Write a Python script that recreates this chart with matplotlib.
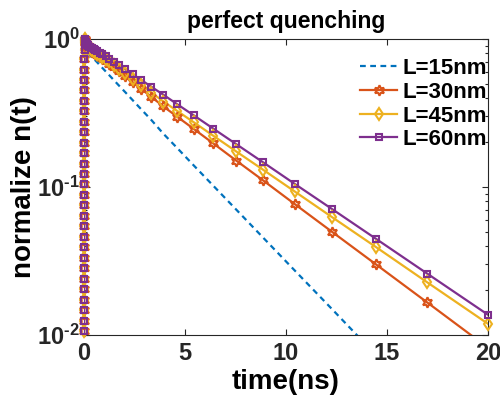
import numpy as np
import matplotlib
matplotlib.use("Agg")
import matplotlib.pyplot as plt
from matplotlib.lines import Line2D

plt.rcParams["font.family"] = ["Liberation Sans", "DejaVu Sans"]
plt.rcParams["font.weight"] = "bold"
plt.rcParams["mathtext.fontset"] = "custom"
plt.rcParams["mathtext.rm"] = "Liberation Sans:bold"
plt.rcParams["mathtext.bf"] = "Liberation Sans:bold"
plt.rcParams["mathtext.default"] = "rm"

# early build-up (shared by all film thicknesses), time in ns
t_rise = [0.00027, 0.00032, 0.00038, 0.00044, 0.00052, 0.00061, 0.00072, 0.00085,
          0.0010, 0.0012, 0.0014, 0.0016, 0.0019, 0.0022, 0.0026, 0.0031, 0.0036,
          0.0042, 0.0050, 0.0059, 0.0069, 0.0081, 0.0096, 0.0113, 0.0132, 0.0156,
          0.0183, 0.0216, 0.0254, 0.030]
n_rise = [0.0090, 0.0106, 0.0125, 0.0147, 0.0173, 0.0204, 0.024, 0.0282, 0.0332,
          0.0391, 0.046, 0.0541, 0.0637, 0.075, 0.0882, 0.104, 0.122, 0.144, 0.169,
          0.199, 0.234, 0.276, 0.325, 0.382, 0.45, 0.53, 0.62, 0.73, 0.84, 0.94]

# decay after the peak, time in ns
t_fall = [0.035, 0.041, 0.048, 0.057, 0.067, 0.079, 0.093, 0.109, 0.129, 0.151,
          0.178, 0.210, 0.247, 0.290, 0.342, 0.402, 0.473, 0.557, 0.655, 0.771,
          0.908, 1.068, 1.257, 1.48, 1.74, 2.05, 2.41, 2.84, 3.34, 3.93,
          4.62, 5.43, 6.40, 7.53, 8.86, 10.43, 12.27, 14.44, 16.99, 20.0]

n_L15 = [1.000, 0.973, 0.951, 0.929, 0.908, 0.887, 0.869, 0.851, 0.836, 0.822,
         0.809, 0.796, 0.785, 0.774, 0.764, 0.752, 0.738, 0.718, 0.695, 0.668,
         0.638, 0.605, 0.568, 0.527, 0.483, 0.436, 0.386, 0.334, 0.283, 0.229,
         0.183, 0.140, 0.102, 0.0705, 0.0456, 0.0273, 0.0150, 0.00736, 0.0032, 0.0012]
n_L30 = [1.000, 0.986, 0.975, 0.964, 0.953, 0.942, 0.929, 0.918, 0.906, 0.893,
         0.883, 0.871, 0.861, 0.851, 0.839, 0.828, 0.813, 0.798, 0.780, 0.760,
         0.740, 0.711, 0.681, 0.644, 0.604, 0.558, 0.511, 0.459, 0.406, 0.350,
         0.298, 0.247, 0.197, 0.151, 0.111, 0.0767, 0.0499, 0.0301, 0.0166, 0.0082]
n_L45 = [1.000, 0.989, 0.979, 0.968, 0.959, 0.948, 0.938, 0.927, 0.914, 0.904,
         0.893, 0.883, 0.873, 0.863, 0.853, 0.841, 0.828, 0.815, 0.798, 0.780,
         0.760, 0.735, 0.705, 0.670, 0.630, 0.586, 0.538, 0.488, 0.434, 0.378,
         0.326, 0.274, 0.222, 0.174, 0.131, 0.0933, 0.0627, 0.0394, 0.0227, 0.0119]
n_L60 = [1.000, 0.991, 0.982, 0.973, 0.964, 0.955, 0.944, 0.935, 0.925, 0.914,
         0.906, 0.897, 0.889, 0.881, 0.873, 0.863, 0.851, 0.839, 0.824, 0.807,
         0.789, 0.764, 0.736, 0.703, 0.665, 0.624, 0.578, 0.528, 0.475, 0.420,
         0.362, 0.305, 0.248, 0.195, 0.147, 0.105, 0.0711, 0.0448, 0.0260, 0.0137]

labels = ["L=15nm", "L=30nm", "L=45nm", "L=60nm"]
colors = ["#0072BD", "#D95319", "#EDB120", "#7E2F8E"]
styles = [(0, (2.6, 2.0)), "-", "-", "-"]
markers = [None, (6, 1, 0), "d", "s"]
msizes = [0, 7.5, 6, 5]

x_ticks = [0, 5, 10, 15, 20]
y_ticks = [1e-2, 1e-1, 1e0]
y_tick_labels = [r"$10^{\text{-}2}$", r"$10^{\text{-}1}$", r"$10^{0}$"]

fig = plt.figure(figsize=(5.0, 4.01), dpi=100)
ax = fig.add_axes([84 / 500, 1 - 335 / 401, 404 / 500, 296 / 401])
ax.set_yscale("log")
ax.set_xlim(0, 20)
ax.set_ylim(1e-2, 1)

handles = []
for n_fall, lab, c, ls, mk, ms in zip([n_L15, n_L30, n_L45, n_L60],
                                     labels, colors, styles, markers, msizes):
    t = np.array(t_rise + t_fall)
    n = np.array(n_rise + n_fall)
    ax.plot(t, n, color=c, ls=ls, lw=1.6, zorder=3)
    if mk is not None:
        keep = (n >= 1e-2) & (n <= 1) & (t <= 20)
        ax.plot(t[keep], n[keep], ls="none", marker=mk, ms=ms, mfc="none",
                mec=c, mew=1.5, clip_on=False, zorder=4)
    handles.append(Line2D([], [], color=c, ls=ls, lw=1.6, marker=mk, ms=ms,
                          mfc="none", mec=c, mew=1.5))

ax.set_xticks(x_ticks)
ax.set_xticklabels([str(v) for v in x_ticks])
ax.set_yticks(y_ticks)
ax.set_yticklabels(y_tick_labels)
ax.tick_params(which="both", direction="in", top=True, right=True,
               colors="#262626", labelsize=17, width=0.8)
ax.tick_params(axis="x", which="major", pad=5)
ax.tick_params(axis="y", which="major", pad=3)
ax.tick_params(which="major", length=4)
ax.tick_params(which="minor", length=2.5)
for sp in ax.spines.values():
    sp.set_color("#262626")
    sp.set_linewidth(0.8)

ax.set_xlabel("time(ns)", fontsize=20, fontweight="bold", labelpad=3)
ax.set_ylabel("normalize n(t)", fontsize=20, fontweight="bold", labelpad=0)
ax.set_title("perfect quenching", fontsize=16.5, fontweight="bold", pad=8)

leg = ax.legend(handles, labels, loc="upper right", frameon=False, fontsize=16,
                handlelength=1.65, handletextpad=0.25, labelspacing=0.12,
                borderaxespad=0.0, borderpad=0.0,
                bbox_to_anchor=(0.9975, 0.935))
for txt in leg.get_texts():
    txt.set_fontweight("bold")

fig.savefig("out.png", dpi=100)
